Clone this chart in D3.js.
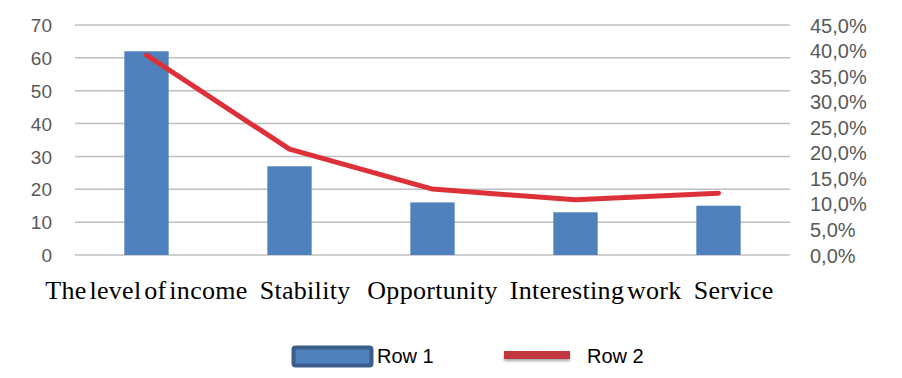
<!DOCTYPE html>
<html>
<head>
<meta charset="utf-8">
<script src="https://cdn.jsdelivr.net/npm/d3@7"></script>
<style>
  body { margin: 0; background: #fff; }
  svg { display: block; }
</style>
</head>
<body>
<div id="chart"></div>
<script>
// chart data
var categories = ['The level of income', 'Stability', 'Opportunity', 'Interesting work', 'Service']
var row1 = [62, 27, 16, 13, 15]
var row2 = [39.1, 20.7, 12.9, 10.8, 12.1]
var leftTicks = [0, 10, 20, 30, 40, 50, 60, 70]
var rightTicks = [0, 5, 10, 15, 20, 25, 30, 35, 40, 45]
var seriesNames = ['Row 1', 'Row 2']

var width = 902
var height = 378
var plot = { left: 75, right: 790, top: 25, bottom: 255 }

var svg = d3.select('#chart')
  .append('svg')
  .attr('width', width)
  .attr('height', height)

var x = d3.scaleBand()
  .domain(categories)
  .range([plot.left, plot.right])
  .paddingInner(0.69)
  .paddingOuter(0.345)

var xPoint = d3.scalePoint()
  .domain(categories)
  .range([plot.left, plot.right])
  .padding(0.5)

var yLeft = d3.scaleLinear().domain([0, 70]).range([plot.bottom, plot.top])
var yRight = d3.scaleLinear().domain([0, 45]).range([plot.bottom, plot.top])

// gridlines
svg.append('g')
  .selectAll('line')
  .data(leftTicks)
  .enter()
  .append('line')
  .attr('x1', plot.left)
  .attr('x2', plot.right)
  .attr('y1', d => yLeft(d))
  .attr('y2', d => yLeft(d))
  .attr('stroke', '#bfbfbf')
  .attr('stroke-width', 1.5)

// left axis
var leftAxis = svg.append('g')
  .attr('transform', 'translate(' + (plot.left - 23) + ',0)')
  .call(d3.axisLeft(yLeft).tickValues(leftTicks).tickSize(0).tickPadding(0))
leftAxis.select('.domain').remove()
leftAxis.selectAll('text')
  .attr('fill', '#595959')
  .style('font-family', 'Liberation Sans, Arial, sans-serif')
  .style('font-size', '19px')
  .attr('dy', '0.35em')

// right axis
var rightAxis = svg.append('g')
  .attr('transform', 'translate(' + (plot.right + 20) + ',0)')
  .call(d3.axisRight(yRight).tickValues(rightTicks).tickSize(0).tickPadding(0)
    .tickFormat(d => d3.format('.1f')(d).replace('.', ',') + '%'))
rightAxis.select('.domain').remove()
rightAxis.selectAll('text')
  .attr('fill', '#595959')
  .style('font-family', 'Liberation Sans, Arial, sans-serif')
  .style('font-size', '20px')
  .attr('dy', '0.35em')

// bars
svg.append('g')
  .selectAll('rect')
  .data(row1)
  .enter()
  .append('rect')
  .attr('x', (d, i) => x(categories[i]))
  .attr('y', d => yLeft(d))
  .attr('width', x.bandwidth())
  .attr('height', d => yLeft(0) - yLeft(d))
  .attr('fill', '#4f81bd')

// line
var line = d3.line()
  .x((d, i) => xPoint(categories[i]))
  .y(d => yRight(d))

svg.append('path')
  .datum(row2)
  .attr('d', line)
  .attr('fill', 'none')
  .attr('stroke', '#dc3139')
  .attr('stroke-width', 5)
  .attr('stroke-linecap', 'round')
  .attr('stroke-linejoin', 'round')

// category labels, centred on the band then pushed right if they overlap
var labels = svg.append('g')
  .selectAll('text')
  .data(categories)
  .enter()
  .append('text')
  .attr('x', d => xPoint(d))
  .attr('y', 299)
  .attr('text-anchor', 'start')
  .style('font-family', 'Liberation Serif, Times New Roman, serif')
  .style('font-size', '26px')
  .style('letter-spacing', '0.3px')
  .style('word-spacing', '-4px')
  .attr('fill', '#000')
  .text(d => d)

var prevEnd = -Infinity
labels.each(function(d) {
  var w = this.getComputedTextLength()
  var start = Math.max(xPoint(d) - w / 2, prevEnd + 12)
  d3.select(this).attr('x', start)
  prevEnd = start + w
})

// legend
var defs = svg.append('defs')
var shadow = defs.append('filter').attr('id', 'shadow').attr('x', '-20%').attr('y', '-100%').attr('width', '140%').attr('height', '400%')
shadow.append('feDropShadow').attr('dx', 0).attr('dy', 2).attr('stdDeviation', 1.5).attr('flood-color', '#000').attr('flood-opacity', 0.35)

var legend = svg.append('g')
legend.append('rect')
  .attr('x', 293.5)
  .attr('y', 347.5)
  .attr('width', 78)
  .attr('height', 18)
  .attr('rx', 2)
  .attr('fill', '#4f81bd')
  .attr('stroke', '#3a5f8c')
  .attr('stroke-width', 4)
legend.append('text')
  .attr('x', 377)
  .attr('y', 363)
  .style('font-family', 'Liberation Sans, Arial, sans-serif')
  .style('font-size', '20px')
  .text(seriesNames[0])

legend.append('rect')
  .attr('x', 504)
  .attr('y', 351)
  .attr('width', 66)
  .attr('height', 8)
  .attr('fill', '#c0393c')
  .attr('filter', 'url(#shadow)')
legend.append('text')
  .attr('x', 587)
  .attr('y', 363)
  .style('font-family', 'Liberation Sans, Arial, sans-serif')
  .style('font-size', '20px')
  .text(seriesNames[1])
</script>
</body>
</html>
